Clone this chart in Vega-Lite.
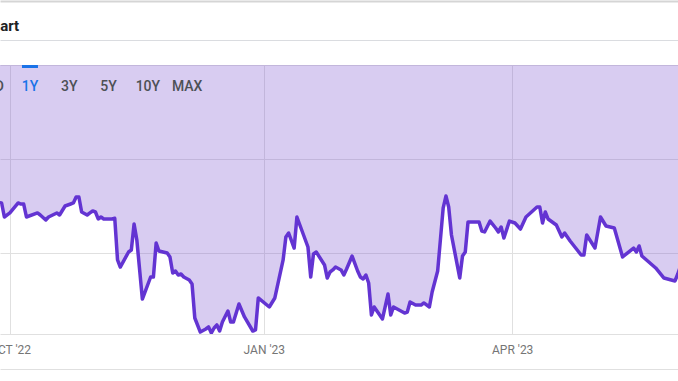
{
  "$schema": "https://vega.github.io/schema/vega-lite/v6.json",
  "width": 678,
  "height": 269,
  "autosize": {"type": "none"},
  "padding": {"top": 65, "left": 0, "right": 0, "bottom": 47},
  "background": "white",
  "title": {"text": "Chart", "anchor": "start", "frame": "group", "font": "Roboto", "fontSize": 15, "fontWeight": "bold", "color": "#202124", "baseline": "alphabetic", "offset": 0, "dx": -18, "dy": 45},
  "config": {"font": "Roboto", "view": {"stroke": null}},
  "datasets": {
    "prices": [
      {"date": "2022-09-27", "price": 45.36},
      {"date": "2022-09-28", "price": 45.33},
      {"date": "2022-09-29", "price": 43.84},
      {"date": "2022-10-01", "price": 44.27},
      {"date": "2022-10-04", "price": 45.33},
      {"date": "2022-10-05", "price": 45.22},
      {"date": "2022-10-06", "price": 45.22},
      {"date": "2022-10-07", "price": 43.84},
      {"date": "2022-10-11", "price": 44.27},
      {"date": "2022-10-12", "price": 44.05},
      {"date": "2022-10-14", "price": 43.52},
      {"date": "2022-10-15", "price": 43.84},
      {"date": "2022-10-18", "price": 44.27},
      {"date": "2022-10-19", "price": 44.05},
      {"date": "2022-10-21", "price": 45.01},
      {"date": "2022-10-23", "price": 45.22},
      {"date": "2022-10-24", "price": 45.33},
      {"date": "2022-10-25", "price": 45.97},
      {"date": "2022-10-26", "price": 45.97},
      {"date": "2022-10-27", "price": 44.37},
      {"date": "2022-10-29", "price": 44.05},
      {"date": "2022-10-30", "price": 44.27},
      {"date": "2022-10-31", "price": 44.48},
      {"date": "2022-11-01", "price": 44.37},
      {"date": "2022-11-02", "price": 43.63},
      {"date": "2022-11-03", "price": 43.84},
      {"date": "2022-11-04", "price": 43.63},
      {"date": "2022-11-05", "price": 43.63},
      {"date": "2022-11-07", "price": 43.63},
      {"date": "2022-11-08", "price": 43.70},
      {"date": "2022-11-09", "price": 39.27},
      {"date": "2022-11-10", "price": 38.52},
      {"date": "2022-11-13", "price": 40.12},
      {"date": "2022-11-14", "price": 40.33},
      {"date": "2022-11-15", "price": 43.10},
      {"date": "2022-11-16", "price": 41.39},
      {"date": "2022-11-18", "price": 35.12},
      {"date": "2022-11-21", "price": 37.46},
      {"date": "2022-11-22", "price": 37.46},
      {"date": "2022-11-23", "price": 41.08},
      {"date": "2022-11-24", "price": 40.23},
      {"date": "2022-11-27", "price": 40.01},
      {"date": "2022-11-28", "price": 39.59},
      {"date": "2022-11-29", "price": 37.89},
      {"date": "2022-11-30", "price": 38.10},
      {"date": "2022-12-01", "price": 37.67},
      {"date": "2022-12-02", "price": 37.78},
      {"date": "2022-12-03", "price": 37.46},
      {"date": "2022-12-05", "price": 37.14},
      {"date": "2022-12-06", "price": 36.72},
      {"date": "2022-12-07", "price": 33.10},
      {"date": "2022-12-09", "price": 31.61},
      {"date": "2022-12-11", "price": 31.93},
      {"date": "2022-12-12", "price": 32.15},
      {"date": "2022-12-13", "price": 31.51},
      {"date": "2022-12-14", "price": 32.04},
      {"date": "2022-12-15", "price": 32.36},
      {"date": "2022-12-16", "price": 31.72},
      {"date": "2022-12-17", "price": 32.68},
      {"date": "2022-12-19", "price": 33.85},
      {"date": "2022-12-20", "price": 32.68},
      {"date": "2022-12-21", "price": 32.68},
      {"date": "2022-12-23", "price": 34.59},
      {"date": "2022-12-25", "price": 33.21},
      {"date": "2022-12-28", "price": 31.72},
      {"date": "2022-12-29", "price": 31.83},
      {"date": "2022-12-30", "price": 35.23},
      {"date": "2023-01-03", "price": 34.27},
      {"date": "2023-01-05", "price": 35.23},
      {"date": "2023-01-08", "price": 39.27},
      {"date": "2023-01-09", "price": 41.71},
      {"date": "2023-01-10", "price": 42.14},
      {"date": "2023-01-12", "price": 40.54},
      {"date": "2023-01-13", "price": 43.84},
      {"date": "2023-01-17", "price": 40.65},
      {"date": "2023-01-18", "price": 37.46},
      {"date": "2023-01-19", "price": 39.91},
      {"date": "2023-01-20", "price": 40.12},
      {"date": "2023-01-23", "price": 38.74},
      {"date": "2023-01-24", "price": 37.35},
      {"date": "2023-01-25", "price": 37.99},
      {"date": "2023-01-26", "price": 38.21},
      {"date": "2023-01-27", "price": 38.52},
      {"date": "2023-01-29", "price": 38.21},
      {"date": "2023-01-30", "price": 37.67},
      {"date": "2023-01-31", "price": 38.31},
      {"date": "2023-02-02", "price": 39.69},
      {"date": "2023-02-04", "price": 38.10},
      {"date": "2023-02-05", "price": 37.46},
      {"date": "2023-02-06", "price": 37.25},
      {"date": "2023-02-07", "price": 37.67},
      {"date": "2023-02-08", "price": 36.82},
      {"date": "2023-02-09", "price": 33.42},
      {"date": "2023-02-10", "price": 34.27},
      {"date": "2023-02-13", "price": 33.00},
      {"date": "2023-02-15", "price": 35.65},
      {"date": "2023-02-16", "price": 33.42},
      {"date": "2023-02-17", "price": 34.27},
      {"date": "2023-02-21", "price": 33.63},
      {"date": "2023-02-22", "price": 33.74},
      {"date": "2023-02-23", "price": 34.80},
      {"date": "2023-02-25", "price": 34.48},
      {"date": "2023-02-27", "price": 34.48},
      {"date": "2023-02-28", "price": 34.70},
      {"date": "2023-03-02", "price": 34.27},
      {"date": "2023-03-03", "price": 35.87},
      {"date": "2023-03-05", "price": 38.10},
      {"date": "2023-03-07", "price": 44.80},
      {"date": "2023-03-08", "price": 46.07},
      {"date": "2023-03-09", "price": 44.90},
      {"date": "2023-03-10", "price": 41.93},
      {"date": "2023-03-13", "price": 37.35},
      {"date": "2023-03-14", "price": 39.69},
      {"date": "2023-03-15", "price": 40.12},
      {"date": "2023-03-16", "price": 43.31},
      {"date": "2023-03-20", "price": 43.31},
      {"date": "2023-03-21", "price": 42.35},
      {"date": "2023-03-22", "price": 42.25},
      {"date": "2023-03-24", "price": 43.41},
      {"date": "2023-03-26", "price": 42.67},
      {"date": "2023-03-27", "price": 42.25},
      {"date": "2023-03-28", "price": 42.78},
      {"date": "2023-03-29", "price": 41.61},
      {"date": "2023-03-31", "price": 43.41},
      {"date": "2023-04-02", "price": 43.20},
      {"date": "2023-04-04", "price": 42.56},
      {"date": "2023-04-06", "price": 43.84},
      {"date": "2023-04-08", "price": 44.37},
      {"date": "2023-04-10", "price": 44.90},
      {"date": "2023-04-11", "price": 44.90},
      {"date": "2023-04-12", "price": 43.20},
      {"date": "2023-04-13", "price": 44.37},
      {"date": "2023-04-14", "price": 43.63},
      {"date": "2023-04-17", "price": 42.99},
      {"date": "2023-04-19", "price": 41.71},
      {"date": "2023-04-20", "price": 42.14},
      {"date": "2023-04-22", "price": 41.29},
      {"date": "2023-04-24", "price": 40.54},
      {"date": "2023-04-26", "price": 39.80},
      {"date": "2023-04-27", "price": 39.80},
      {"date": "2023-04-28", "price": 41.93},
      {"date": "2023-05-01", "price": 40.54},
      {"date": "2023-05-03", "price": 43.84},
      {"date": "2023-05-05", "price": 42.88},
      {"date": "2023-05-08", "price": 42.67},
      {"date": "2023-05-11", "price": 39.59},
      {"date": "2023-05-15", "price": 40.54},
      {"date": "2023-05-16", "price": 40.12},
      {"date": "2023-05-17", "price": 40.76},
      {"date": "2023-05-18", "price": 39.69},
      {"date": "2023-05-23", "price": 38.42},
      {"date": "2023-05-26", "price": 37.35},
      {"date": "2023-05-30", "price": 37.04},
      {"date": "2023-05-31", "price": 37.78},
      {"date": "2023-06-02", "price": 39.50}
    ],
    "ranges": [
      {"label": "YTD", "selected": false},
      {"label": "1Y", "selected": true},
      {"label": "3Y", "selected": false},
      {"label": "5Y", "selected": false},
      {"label": "10Y", "selected": false},
      {"label": "MAX", "selected": false}
    ]
  },
  "layer": [
    {
      "data": {"name": "prices"},
      "mark": {"type": "area", "color": "#7d55d0", "opacity": 0.3, "clip": true},
      "encoding": {
        "x": {
          "field": "date", "type": "temporal",
          "scale": {"type": "utc", "domain": [{"year": 2022, "month": "sep", "date": 27, "hours": 10, "utc": true}, {"year": 2023, "month": "may", "date": 31, "hours": 2, "utc": true}]},
          "axis": {
            "orient": "bottom", "title": null, "offset": 35,
            "values": [{"year": 2022, "month": "oct", "date": 1, "utc": true}, {"year": 2023, "month": "jan", "date": 1, "utc": true}, {"year": 2023, "month": "apr", "date": 1, "utc": true}],
            "labelExpr": "upper(utcFormat(datum.value, \"%b '%y\"))",
            "grid": true, "gridColor": "#e0e0e0", "ticks": false,
            "domain": true, "domainColor": "#e0e0e0",
            "labelPadding": -24.5, "labelFont": "Roboto", "labelFontSize": 12, "labelColor": "#757575",
            "labelFlush": false, "labelOverlap": false, "labelBound": false, "zindex": 0
          }
        },
        "y": {
          "field": "price", "type": "quantitative",
          "scale": {"domain": [31.4, 60], "nice": false, "zero": false},
          "axis": {"values": [31.4, 40, 50, 60], "grid": true, "gridColor": "#e0e0e0", "labels": false, "ticks": false, "domain": false, "title": null, "zindex": 0}
        },
        "y2": {"datum": 60}
      }
    },
    {
      "data": {"name": "prices"},
      "mark": {"type": "line", "color": "#6334d2", "strokeWidth": 3.5, "clip": true, "strokeJoin": "round", "strokeCap": "round"},
      "encoding": {
        "x": {
          "field": "date", "type": "temporal",
          "scale": {"type": "utc", "domain": [{"year": 2022, "month": "sep", "date": 27, "hours": 10, "utc": true}, {"year": 2023, "month": "may", "date": 31, "hours": 2, "utc": true}]},
          "axis": {"orient": "top", "offset": 25, "labels": false, "ticks": false, "grid": false, "domainColor": "#dadce0", "title": null}
        },
        "y": {
          "field": "price", "type": "quantitative",
          "scale": {"domain": [31.4, 60], "nice": false, "zero": false},
          "axis": null
        }
      }
    },
    {
      "data": {"name": "ranges"},
      "mark": {"type": "text", "font": "Roboto", "fontSize": 14, "fontWeight": 500, "baseline": "alphabetic", "align": "center"},
      "encoding": {
        "x": {
          "field": "label", "type": "nominal", "sort": null,
          "scale": {"type": "point", "domain": ["YTD", "1Y", "3Y", "5Y", "10Y", "MAX"], "range": [-9.3, 187.2], "padding": 0},
          "axis": null
        },
        "y": {"datum": 57.23, "type": "quantitative", "scale": {"domain": [31.4, 60], "nice": false, "zero": false}, "axis": null},
        "text": {"field": "label"},
        "color": {"condition": {"test": "datum.selected", "value": "#1a73e8"}, "value": "#4d5156"}
      }
    },
    {
      "data": {"name": "ranges"},
      "transform": [{"filter": "datum.selected"}],
      "mark": {"type": "rect", "color": "#1a73e8"},
      "encoding": {
        "x": {
          "field": "label", "type": "nominal",
          "scale": {"type": "band", "domain": ["1Y"], "paddingInner": 0.9517, "paddingOuter": 1, "align": 0.0332},
          "axis": {"orient": "top", "offset": 64, "labels": false, "ticks": false, "grid": false, "domainColor": "#d5d5d5", "domainWidth": 2, "title": null}
        },
        "y": {"datum": 60, "type": "quantitative", "scale": {"domain": [31.4, 60], "nice": false, "zero": false}, "axis": null},
        "y2": {"datum": 59.68}
      }
    }
  ],
  "resolve": {
    "scale": {"x": "independent", "y": "independent"},
    "axis": {"x": "independent", "y": "independent"}
  }
}
